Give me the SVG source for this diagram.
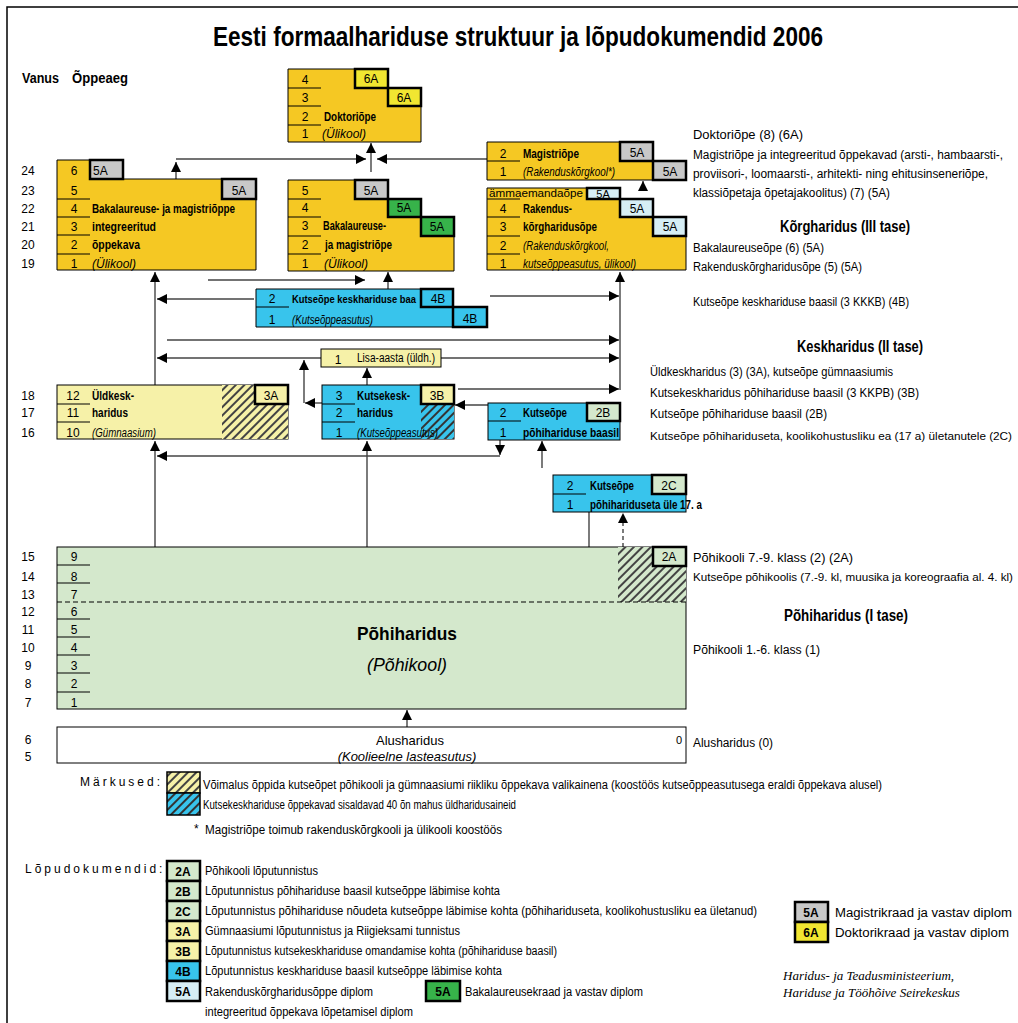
<svg xmlns="http://www.w3.org/2000/svg" width="1018" height="1023" viewBox="0 0 1018 1023">
<style>
.t{font-family:"Liberation Sans Narrow","Liberation Sans",Arial,sans-serif;font-size:12px;fill:#000}
.r{font-family:"Liberation Sans",Arial,sans-serif;font-size:12px;fill:#000}
.b{font-weight:bold}
.i{font-style:italic}
.m{text-anchor:middle}
.bx{stroke:#000;stroke-width:1}
.gb{stroke:#000;stroke-width:2.5}
.rl{stroke:#000;stroke-width:1}
.c{stroke:#444;stroke-width:1.4;fill:none}
.Y{fill:#f5c823}.YD{fill:#f1e631}.GR{fill:#c8c8c8}.GN{fill:#37b34a}.LB{fill:#d6eef5}.B{fill:#38c4ec}.LY{fill:#f6f1a8}.LG{fill:#d4e8cc}.W{fill:#fff}
</style>
<defs>
<marker id="ah" markerUnits="userSpaceOnUse" markerWidth="10" markerHeight="10" refX="10" refY="5" orient="auto"><path d="M0,0 L10,5 L0,10 z" fill="#000"/></marker>
<pattern id="hy" width="6" height="6" patternUnits="userSpaceOnUse" patternTransform="rotate(45)"><rect width="6" height="6" fill="#f6f1a8"/><rect width="2" height="6" fill="#444"/></pattern>
<pattern id="hb" width="6" height="6" patternUnits="userSpaceOnUse" patternTransform="rotate(45)"><rect width="6" height="6" fill="#38c4ec"/><rect width="2" height="6" fill="#333"/></pattern>
<pattern id="hg" width="6" height="6" patternUnits="userSpaceOnUse" patternTransform="rotate(45)"><rect width="6" height="6" fill="#d4e8cc"/><rect width="2" height="6" fill="#444"/></pattern>
</defs>
<rect width="1018" height="1023" fill="#fff"/>
<path d="M7,1023 V7 H1018" stroke="#000" stroke-width="1.5" fill="none"/>
<text class="t b m" x="518" y="46" style="font-size:27px" textLength="610" lengthAdjust="spacingAndGlyphs">Eesti formaalhariduse struktuur ja lõpudokumendid 2006</text>
<text class="t b" x="22" y="83" style="font-size:14px" textLength="37" lengthAdjust="spacingAndGlyphs">Vanus</text>
<text class="t b" x="72" y="83" style="font-size:14px" textLength="56" lengthAdjust="spacingAndGlyphs">Õppeaeg</text>

<g id="ages" class="t m">
<text x="28" y="175">24</text><text x="28" y="195">23</text><text x="28" y="213">22</text><text x="28" y="231">21</text><text x="28" y="249">20</text><text x="28" y="268">19</text>
<text x="28" y="400">18</text><text x="28" y="417">17</text><text x="28" y="437">16</text>
<text x="28" y="561">15</text><text x="28" y="581">14</text><text x="28" y="599">13</text><text x="28" y="616">12</text><text x="28" y="634">11</text><text x="28" y="652">10</text><text x="28" y="670">9</text><text x="28" y="688">8</text><text x="28" y="707">7</text>
<text x="28" y="744">6</text><text x="28" y="761">5</text>
</g>

<g id="connectors">
<path class="c" d="M176,179 V162" marker-end="url(#ah)"/>
<path class="c" d="M176,159 H366" marker-end="url(#ah)"/>
<path class="c" d="M487,159 H377" marker-end="url(#ah)"/>
<path class="c" d="M371,172 V143" marker-end="url(#ah)"/>
<path class="c" d="M643,188 V181" marker-end="url(#ah)"/>
<path class="c" d="M155,385 V272" marker-end="url(#ah)"/>
<path class="c" d="M620,390 V272" marker-end="url(#ah)"/>
<path class="c" d="M208,280 H365" marker-end="url(#ah)"/>
<path class="c" d="M388,289 V272" marker-end="url(#ah)"/>
<path class="c" d="M254,299 H157" marker-end="url(#ah)"/>
<path class="c" d="M490,296 H619" marker-end="url(#ah)"/>
<path class="c" d="M167,340 H619" marker-end="url(#ah)"/>
<path class="c" d="M321,358 H157" marker-end="url(#ah)"/>
<path class="c" d="M441,358 H619" marker-end="url(#ah)"/>
<path class="c" d="M367,385 V368" marker-end="url(#ah)"/>
<path class="c" d="M322,403 H305" marker-end="url(#ah)"/>
<path class="c" d="M304,403 V360" marker-end="url(#ah)"/>
<path class="c" d="M458,389 H619" marker-end="url(#ah)"/>
<path class="c" d="M488,405 H455" marker-end="url(#ah)"/>
<path class="c" d="M500,440 V455" marker-end="url(#ah)"/>
<path class="c" d="M500,456 H157" marker-end="url(#ah)"/>
<path class="c" d="M542,468 V441" marker-end="url(#ah)"/>
<path class="c" d="M155,547 V441" marker-end="url(#ah)"/>
<path class="c" d="M367,547 V441" marker-end="url(#ah)"/>
<path class="c" d="M589,512 V578" marker-end="url(#ah)"/>
<path class="c" d="M623,547 V513" stroke-dasharray="4,3" marker-end="url(#ah)"/>
<path class="c" d="M407,727 V710" marker-end="url(#ah)"/>
</g>

<g id="doktor">
<path class="Y bx" d="M288,69 H388 V88 H421 V142 H288 Z"/>
<rect class="YD gb" x="355" y="69" width="33" height="19"/>
<rect class="YD gb" x="388" y="88" width="33" height="18"/>
<text class="t m" x="371" y="83">6A</text><text class="t m" x="404" y="102">6A</text>
<path class="rl" d="M288,88 H321 M288,106 H321 M288,125 H321"/>
<text class="t m" x="305" y="84">4</text><text class="t m" x="305" y="102">3</text><text class="t m" x="305" y="121">2</text><text class="t m" x="305" y="138">1</text>
<text class="t b" x="324" y="121" textLength="52" lengthAdjust="spacingAndGlyphs">Doktoriõpe</text>
<text class="t i" x="322" y="138" textLength="44" lengthAdjust="spacingAndGlyphs">(Ülikool)</text>
</g>

<g id="integreeritud">
<path class="Y bx" d="M57,160 H90 V179 H256 V270 H57 Z"/>
<rect class="GR gb" x="90" y="160" width="33" height="19"/>
<rect class="GR gb" x="222" y="179" width="34" height="20"/>
<text class="t" x="93" y="175">5A</text><text class="t m" x="239" y="195">5A</text>
<path class="rl" d="M57,199 H90 M57,217 H90 M57,235 H90 M57,254 H90"/>
<text class="t m" x="74" y="175">6</text><text class="t m" x="74" y="195">5</text><text class="t m" x="74" y="213">4</text><text class="t m" x="74" y="231">3</text><text class="t m" x="74" y="249">2</text><text class="t m" x="74" y="268">1</text>
<text class="t b" x="92" y="213" textLength="143" lengthAdjust="spacingAndGlyphs">Bakalaureuse- ja magistriõppe</text>
<text class="t b" x="92" y="231" textLength="64" lengthAdjust="spacingAndGlyphs">integreeritud</text>
<text class="t b" x="92" y="249" textLength="48" lengthAdjust="spacingAndGlyphs">õppekava</text>
<text class="t i" x="92" y="268" textLength="44" lengthAdjust="spacingAndGlyphs">(Ülikool)</text>
</g>

<g id="bakalaureus">
<path class="Y bx" d="M288,180 H388 V199 H421 V217 H454 V271 H288 Z"/>
<rect class="GR gb" x="355" y="180" width="33" height="19"/>
<rect class="GN gb" x="388" y="199" width="33" height="18"/>
<rect class="GN gb" x="421" y="217" width="33" height="19"/>
<text class="t m" x="371" y="195">5A</text><text class="t m" x="404" y="212">5A</text><text class="t m" x="437" y="231">5A</text>
<path class="rl" d="M288,199 H321 M288,217 H321 M288,236 H321 M288,254 H321"/>
<text class="t m" x="305" y="195">5</text><text class="t m" x="305" y="212">4</text><text class="t m" x="305" y="230">3</text><text class="t m" x="305" y="249">2</text><text class="t m" x="305" y="268">1</text>
<text class="t b" x="323" y="230" textLength="63" lengthAdjust="spacingAndGlyphs">Bakalaureuse-</text>
<text class="t b" x="325" y="249" textLength="67" lengthAdjust="spacingAndGlyphs">ja magistriõpe</text>
<text class="t i" x="324" y="268" textLength="44" lengthAdjust="spacingAndGlyphs">(Ülikool)</text>
</g>

<g id="magister">
<path class="Y bx" d="M487,142 H653 V161 H686 V180 H487 Z"/>
<rect class="GR gb" x="620" y="142" width="33" height="19"/>
<rect class="GR gb" x="653" y="161" width="33" height="19"/>
<text class="t m" x="637" y="157">5A</text><text class="t m" x="670" y="176">5A</text>
<path class="rl" d="M487,161 H520"/>
<text class="t m" x="503" y="158">2</text><text class="t m" x="503" y="176">1</text>
<text class="t b" x="523" y="158" textLength="56" lengthAdjust="spacingAndGlyphs">Magistriõpe</text>
<text class="t i" x="523" y="176" textLength="92" lengthAdjust="spacingAndGlyphs">(Rakenduskõrgkool*)</text>
</g>

<g id="rakendus">
<path class="Y bx" d="M487,188 H620 V199 H653 V217 H686 V270 H487 Z"/>
<rect class="LB gb" x="587" y="188" width="33" height="11"/>
<rect class="LB gb" x="620" y="199" width="33" height="18"/>
<rect class="LB gb" x="653" y="217" width="33" height="19"/>
<text class="t m" x="603" y="198" style="font-size:11px">5A</text><text class="t m" x="637" y="213">5A</text><text class="t m" x="670" y="231">5A</text>
<path class="rl" d="M487,199 H520 M487,217 H520 M487,236 H520 M487,254 H520"/>
<text class="t" x="489" y="197" style="font-size:11px" textLength="94" lengthAdjust="spacingAndGlyphs">ämmaemandaõpe</text>
<text class="t m" x="503" y="213">4</text><text class="t m" x="503" y="231">3</text><text class="t m" x="503" y="250">2</text><text class="t m" x="503" y="268">1</text>
<text class="t b" x="523" y="213" textLength="49" lengthAdjust="spacingAndGlyphs">Rakendus-</text>
<text class="t b" x="523" y="231" textLength="74" lengthAdjust="spacingAndGlyphs">kõrgharidusõpe</text>
<text class="t i" x="523" y="250" textLength="86" lengthAdjust="spacingAndGlyphs">(Rakenduskõrgkool,</text>
<text class="t i" x="523" y="268" textLength="113" lengthAdjust="spacingAndGlyphs">kutseõppeasutus, ülikool)</text>
</g>

<g id="kutse-kesk-baasil">
<path class="B bx" d="M256,289 H453 V307 H487 V327 H256 Z"/>
<path class="rl" d="M256,307 H289"/>
<text class="t m" x="272" y="303">2</text><text class="t m" x="272" y="324">1</text>
<text class="t b" x="292" y="303" style="font-size:11px" textLength="124" lengthAdjust="spacingAndGlyphs">Kutseõpe keskhariduse baa</text>
<text class="t i" x="292" y="324" textLength="81" lengthAdjust="spacingAndGlyphs">(Kutseõppeasutus)</text>
<rect class="B gb" x="421" y="289" width="32" height="18"/>
<rect class="B gb" x="453" y="307" width="34" height="20"/>
<text class="t m" x="438" y="303">4B</text><text class="t m" x="470" y="323">4B</text>
</g>

<g id="lisa-aasta">
<rect class="LY bx" x="321" y="349" width="120" height="18"/>
<text class="t m" x="338" y="364">1</text>
<text class="t" x="357" y="362" textLength="78" lengthAdjust="spacingAndGlyphs">Lisa-aasta (üldh.)</text>
</g>

<g id="yldkesk">
<rect class="LY bx" x="57" y="385" width="231" height="54"/>
<rect x="222" y="385" width="66" height="54" fill="url(#hy)"/>
<rect class="LY gb" x="255" y="385" width="33" height="19"/>
<text class="t m" x="271" y="400">3A</text>
<path class="rl" d="M57,404 H90 M57,422 H90"/>
<text class="t m" x="73" y="400">12</text><text class="t m" x="73" y="417">11</text><text class="t m" x="73" y="437">10</text>
<text class="t b" x="92" y="400" textLength="42" lengthAdjust="spacingAndGlyphs">Üldkesk-</text>
<text class="t b" x="92" y="417" textLength="36" lengthAdjust="spacingAndGlyphs">haridus</text>
<text class="t i" x="92" y="437" textLength="64" lengthAdjust="spacingAndGlyphs">(Gümnaasium)</text>
</g>

<g id="kutsekesk">
<rect class="B bx" x="322" y="385" width="132" height="54"/>
<rect x="421" y="404" width="33" height="35" fill="url(#hb)"/>
<rect class="LY gb" x="421" y="385" width="33" height="19"/>
<text class="t m" x="437" y="400">3B</text>
<path class="rl" d="M322,404 H355 M322,422 H355"/>
<text class="t m" x="339" y="400">3</text><text class="t m" x="339" y="417">2</text><text class="t m" x="339" y="437">1</text>
<text class="t b" x="357" y="400" textLength="53" lengthAdjust="spacingAndGlyphs">Kutsekesk-</text>
<text class="t b" x="357" y="417" textLength="36" lengthAdjust="spacingAndGlyphs">haridus</text>
<text class="t i" x="357" y="437" textLength="81" lengthAdjust="spacingAndGlyphs">(Kutseõppeasutus)</text>
</g>

<g id="kutse-pohi-baasil">
<rect class="B bx" x="488" y="403" width="132" height="37"/>
<rect class="LG gb" x="587" y="403" width="33" height="18"/>
<text class="t m" x="603" y="417">2B</text>
<path class="rl" d="M488,421 H521"/>
<text class="t m" x="503" y="417">2</text><text class="t m" x="503" y="437">1</text>
<text class="t b" x="523" y="417" textLength="44" lengthAdjust="spacingAndGlyphs">Kutseõpe</text>
<text class="t b" x="523" y="437" textLength="96" lengthAdjust="spacingAndGlyphs">põhihariduse baasil</text>
</g>

<g id="kutse-2c">
<rect class="B bx" x="553" y="475" width="133" height="37"/>
<rect class="LG gb" x="652" y="475" width="34" height="19"/>
<text class="t m" x="669" y="490">2C</text>
<path class="rl" d="M553,494 H586"/>
<text class="t m" x="570" y="490">2</text><text class="t m" x="570" y="509">1</text>
<text class="t b" x="590" y="490" textLength="44" lengthAdjust="spacingAndGlyphs">Kutseõpe</text>
<text class="t b" x="590" y="509" textLength="112" lengthAdjust="spacingAndGlyphs">põhihariduseta üle 17. a</text>
</g>

<g id="pohiharidus">
<rect class="LG bx" x="57" y="547" width="629" height="162"/>
<rect x="618" y="547" width="68" height="55" fill="url(#hg)"/>
<path d="M57,602 H686" stroke="#000" stroke-width="1" stroke-dasharray="5,3"/>
<rect class="LG gb" x="653" y="547" width="33" height="19"/>
<text class="t m" x="669" y="561">2A</text>
<path class="rl" d="M57,565 H90 M57,583 H90 M57,619 H90 M57,637 H90 M57,655 H90 M57,673 H90 M57,692 H90"/>
<text class="t m" x="74" y="561">9</text><text class="t m" x="74" y="581">8</text><text class="t m" x="74" y="599">7</text><text class="t m" x="74" y="616">6</text><text class="t m" x="74" y="634">5</text><text class="t m" x="74" y="652">4</text><text class="t m" x="74" y="670">3</text><text class="t m" x="74" y="688">2</text><text class="t m" x="74" y="707">1</text>
<text class="t b m" x="407" y="640" style="font-size:19px" textLength="100" lengthAdjust="spacingAndGlyphs">Põhiharidus</text>
<text class="t i m" x="407" y="671" style="font-size:19px" textLength="80" lengthAdjust="spacingAndGlyphs">(Põhikool)</text>
</g>

<g id="alusharidus">
<rect class="W bx" x="57" y="727" width="629" height="36"/>
<text class="t m" x="410" y="745" style="font-size:13px">Alusharidus</text>
<text class="t i m" x="407" y="761" style="font-size:13px">(Koolieelne lasteasutus)</text>
<text class="t" x="676" y="744" style="font-size:11px">0</text>
</g>

<g id="right-labels" class="r">
<text x="693" y="139" textLength="110" lengthAdjust="spacingAndGlyphs">Doktoriõpe (8) (6A)</text>
<text x="693" y="159" textLength="310" lengthAdjust="spacingAndGlyphs">Magistriõpe ja integreeritud õppekavad (arsti-, hambaarsti-,</text>
<text x="693" y="178" textLength="295" lengthAdjust="spacingAndGlyphs">proviisori-, loomaarsti-, arhitekti- ning ehitusinseneriõpe,</text>
<text x="693" y="197" textLength="197" lengthAdjust="spacingAndGlyphs">klassiõpetaja õpetajakoolitus) (7) (5A)</text>
<text class="b m" x="845" y="232" style="font-size:16px" textLength="130" lengthAdjust="spacingAndGlyphs">Kõrgharidus (III tase)</text>
<text x="693" y="252" textLength="131" lengthAdjust="spacingAndGlyphs">Bakalaureuseõpe (6) (5A)</text>
<text x="693" y="271" textLength="169" lengthAdjust="spacingAndGlyphs">Rakenduskõrgharidusõpe (5) (5A)</text>
<text x="693" y="306" textLength="216" lengthAdjust="spacingAndGlyphs">Kutseõpe keskhariduse baasil (3 KKKB) (4B)</text>
<text class="b m" x="860" y="352" style="font-size:16px" textLength="126" lengthAdjust="spacingAndGlyphs">Keskharidus (II tase)</text>
<text x="650" y="376" textLength="243" lengthAdjust="spacingAndGlyphs">Üldkeskharidus (3) (3A), kutseõpe gümnaasiumis</text>
<text x="650" y="397" textLength="269" lengthAdjust="spacingAndGlyphs">Kutsekeskharidus põhihariduse baasil (3 KKPB) (3B)</text>
<text x="650" y="418" textLength="177" lengthAdjust="spacingAndGlyphs">Kutseõpe põhihariduse baasil (2B)</text>
<text x="650" y="440" style="font-size:11px" textLength="362" lengthAdjust="spacingAndGlyphs">Kutseõpe põhihariduseta, koolikohustusliku ea (17 a) ületanutele (2C)</text>
<text x="693" y="562" textLength="160" lengthAdjust="spacingAndGlyphs">Põhikooli 7.-9. klass (2) (2A)</text>
<text x="693" y="581" style="font-size:11px" textLength="320" lengthAdjust="spacingAndGlyphs">Kutseõpe põhikoolis (7.-9. kl, muusika ja koreograafia al. 4. kl)</text>
<text class="b m" x="846" y="621" style="font-size:16px" textLength="124" lengthAdjust="spacingAndGlyphs">Põhiharidus (I tase)</text>
<text x="693" y="654" textLength="127" lengthAdjust="spacingAndGlyphs">Põhikooli 1.-6.  klass (1)</text>
<text x="693" y="747" textLength="80" lengthAdjust="spacingAndGlyphs">Alusharidus (0)</text>
</g>

<g id="legend-notes">
<text class="t" x="80" y="786" letter-spacing="3">Märkused:</text>
<rect x="167" y="772" width="33" height="21" fill="url(#hy)" stroke="#000" stroke-width="1.5"/>
<rect x="167" y="793" width="33" height="22" fill="url(#hb)" stroke="#000" stroke-width="1.5"/>
<text class="t" x="203" y="789" textLength="679" lengthAdjust="spacingAndGlyphs">Võimalus õppida kutseõpet põhikooli ja gümnaasiumi riikliku õppekava valikainena (koostöös kutseõppeasutusega eraldi õppekava alusel)</text>
<text class="t" x="203" y="809" textLength="313" lengthAdjust="spacingAndGlyphs">Kutsekeskhariduse õppekavad sisaldavad 40 õn mahus üldharidusaineid</text>
<text class="t" x="194" y="833">*</text>
<text class="t" x="205" y="834" textLength="297" lengthAdjust="spacingAndGlyphs">Magistriõpe toimub rakenduskõrgkooli ja ülikooli koostöös</text>
</g>

<g id="legend-docs">
<text class="t" x="25" y="873" letter-spacing="3">Lõpudokumendid:</text>
<rect class="LG gb" x="167" y="861" width="33" height="20"/><text class="t b m" x="183" y="876">2A</text>
<rect class="LG gb" x="167" y="881" width="33" height="20"/><text class="t b m" x="183" y="896">2B</text>
<rect class="LG gb" x="167" y="901" width="33" height="20"/><text class="t b m" x="183" y="916">2C</text>
<rect class="LY gb" x="167" y="921" width="33" height="20"/><text class="t b m" x="183" y="936">3A</text>
<rect class="LY gb" x="167" y="941" width="33" height="20"/><text class="t b m" x="183" y="956">3B</text>
<rect class="B gb" x="167" y="961" width="33" height="20"/><text class="t b m" x="183" y="976">4B</text>
<rect class="LB gb" x="167" y="981" width="33" height="20"/><text class="t b m" x="183" y="996">5A</text>
<text class="t" x="205" y="875" textLength="113" lengthAdjust="spacingAndGlyphs">Põhikooli lõputunnistus</text>
<text class="t" x="205" y="895" textLength="295" lengthAdjust="spacingAndGlyphs">Lõputunnistus põhihariduse baasil kutseõppe läbimise kohta</text>
<text class="t" x="205" y="915" textLength="552" lengthAdjust="spacingAndGlyphs">Lõputunnistus põhihariduse nõudeta kutseõppe läbimise kohta (põhihariduseta, koolikohustusliku ea ületanud)</text>
<text class="t" x="205" y="935" textLength="255" lengthAdjust="spacingAndGlyphs">Gümnaasiumi lõputunnistus ja Riigieksami tunnistus</text>
<text class="t" x="205" y="955" textLength="352" lengthAdjust="spacingAndGlyphs">Lõputunnistus kutsekeskhariduse omandamise kohta (põhihariduse baasil)</text>
<text class="t" x="205" y="975" textLength="297" lengthAdjust="spacingAndGlyphs">Lõputunnistus keskhariduse baasil kutseõppe läbimise kohta</text>
<text class="t" x="205" y="996" textLength="168" lengthAdjust="spacingAndGlyphs">Rakenduskõrgharidusõppe diplom</text>
<text class="t" x="205" y="1016" textLength="208" lengthAdjust="spacingAndGlyphs">integreeritud õppekava lõpetamisel diplom</text>
<rect class="GN gb" x="426" y="981" width="34" height="20"/><text class="t b m" x="443" y="996">5A</text>
<text class="t" x="465" y="996" textLength="178" lengthAdjust="spacingAndGlyphs">Bakalaureusekraad ja vastav diplom</text>
<rect class="GR gb" x="795" y="902" width="33" height="20"/><text class="t b m" x="811" y="917">5A</text>
<rect class="YD gb" x="795" y="922" width="33" height="20"/><text class="t b m" x="811" y="937">6A</text>
<text class="t" x="835" y="917" textLength="177" lengthAdjust="spacingAndGlyphs">Magistrikraad ja vastav diplom</text>
<text class="t" x="835" y="937" textLength="174" lengthAdjust="spacingAndGlyphs">Doktorikraad ja vastav diplom</text>
</g>

<g id="credits" font-family="'Liberation Serif','Times New Roman',serif" font-style="italic" font-size="13">
<text x="783" y="980">Haridus- ja Teadusministeerium,</text>
<text x="783" y="997">Hariduse ja Tööhõive Seirekeskus</text>
</g>
</svg>
